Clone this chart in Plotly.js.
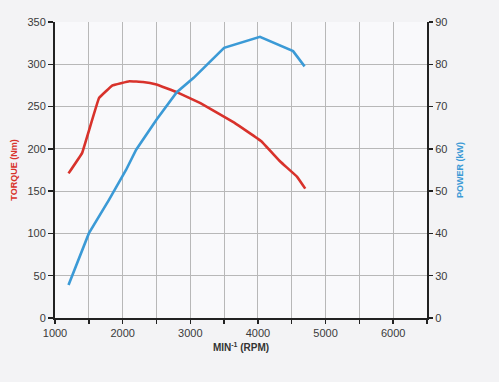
<!DOCTYPE html>
<html>
<head>
<meta charset="utf-8">
<script src="https://cdn.plot.ly/plotly-3.0.1.min.js"></script>
<style>html,body{margin:0;padding:0;background:#f3f3f5;}#chart{width:499px;height:382px;}</style>
</head>
<body>
<div id="chart"></div>
<script>
// Torque curve (Nm) vs engine speed (rpm)
var torqueRpm = [1200, 1400, 1650, 1850, 2100, 2300, 2500, 2800, 3150, 3650, 4050, 4330, 4580, 4700];
var torqueNm  = [171, 195, 260, 275, 280, 279, 276, 267, 254, 231, 209, 185, 167, 153];

// Power curve (kW) vs engine speed (rpm)
var powerRpm = [1200, 1500, 1800, 2050, 2200, 2500, 2800, 3050, 3500, 4030, 4520, 4690];
var powerKw  = [27.8, 40, 48, 55, 59.8, 66.9, 73.4, 76.8, 83.9, 86.5, 83.1, 79.5];

// Axis ticks
var y2TickVals = [20, 30, 40, 50, 60, 70, 80, 90];
var y2TickText = ['0', '30', '40', '50', '60', '70', '80', '90'];

var fam = 'Liberation Sans Narrow, Liberation Sans, Arial';
var tickFont = {family: fam, size: 11, color: '#3a3a3a'};

var traces = [
  {x: torqueRpm, y: torqueNm, type: 'scatter', mode: 'lines', yaxis: 'y',
   line: {color: '#d8322b', width: 2.6, shape: 'spline', smoothing: 0.15}, hoverinfo: 'x+y', showlegend: false},
  {x: powerRpm, y: powerKw, type: 'scatter', mode: 'lines', yaxis: 'y2',
   line: {color: '#3b9ad6', width: 2.6}, hoverinfo: 'x+y', showlegend: false}
];

var layout = {
  width: 499, height: 382,
  paper_bgcolor: '#f3f3f5', plot_bgcolor: '#f9f9fb',
  margin: {l: 55, r: 72, t: 22, b: 64},
  xaxis: {
    range: [1000, 6500], tick0: 1000, dtick: 1000,
    showgrid: true, gridcolor: '#b8b8b8', gridwidth: 1,
    minor: {dtick: 500, tick0: 1000, showgrid: true, gridcolor: '#b8b8b8', gridwidth: 1,
            ticks: 'outside', ticklen: 4, tickcolor: '#222', tickwidth: 1.5},
    showline: true, linecolor: '#222', linewidth: 2,
    ticks: 'outside', ticklen: 4, tickcolor: '#222', tickwidth: 1.5,
    tickfont: tickFont, zeroline: false,
    title: {text: '<b>MIN<sup>-1</sup> (RPM)</b>', font: {family: fam, size: 10, color: '#333'}, standoff: 6}
  },
  yaxis: {
    range: [0, 350], dtick: 50,
    showgrid: true, gridcolor: '#b8b8b8', gridwidth: 1,
    showline: true, linecolor: '#222', linewidth: 2,
    ticks: 'outside', ticklen: 5, tickcolor: '#222', tickwidth: 1.5,
    tickfont: tickFont, zeroline: false,
    title: {text: '<b>TORQUE (Nm)</b>', font: {family: fam, size: 9, color: '#d8322b'}, standoff: 8}
  },
  yaxis2: {
    range: [20, 90], overlaying: 'y', side: 'right',
    tickvals: y2TickVals, ticktext: y2TickText,
    showgrid: false, showline: true, linecolor: '#222', linewidth: 2,
    ticks: 'outside', ticklen: 4, tickcolor: '#222', tickwidth: 1.5,
    tickfont: tickFont, zeroline: false,
    title: {text: '<b>POWER (kW)</b>', font: {family: fam, size: 9, color: '#3b9ad6'}, standoff: 10}
  }
};

Plotly.newPlot('chart', traces, layout, {displayModeBar: false, staticPlot: true});
</script>
</body>
</html>
